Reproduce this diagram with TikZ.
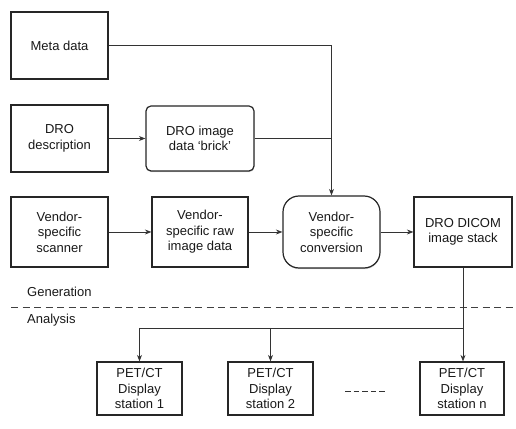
\documentclass[tikz,border=0pt]{standalone}
\usepackage{fontspec}
\setmainfont{Liberation Sans}
\usetikzlibrary{arrows.meta,shadows}
\begin{document}
\begin{tikzpicture}[x=1pt,y=1pt,
  every node/.style={font=\fontsize{13}{15.5}\selectfont, text=black!90},
  box/.style={draw=black!85, line width=1.2pt, fill=white, align=center, inner sep=0pt,
    drop shadow={shadow xshift=0.3pt, shadow yshift=-1.2pt, opacity=0.35}},
  rbox/.style={box, rounded corners=5pt},
  cbox/.style={box, rounded corners=16pt},
  conn/.style={draw=black!80, line width=0.8pt},
  arr/.style={conn, -{Stealth[length=6.5pt,width=5pt]}},
  lbl/.style={anchor=west, inner sep=0pt}
]
\useasboundingbox (0,0) rectangle (516,428);
\node[box, minimum width=97pt, minimum height=67pt] (meta) at (59.5,382.5) {Meta data};
\node[box, minimum width=97pt, minimum height=67pt] (desc) at (59.5,289.5) {DRO\\description};
\node[rbox, minimum width=108pt, minimum height=65pt] (brick) at (200,289.5) {DRO image\\data `brick'};
\node[box, minimum width=97pt, minimum height=70pt] (scan) at (59.5,196) {Vendor-\\specific\\scanner};
\node[box, minimum width=96pt, minimum height=70pt] (raw) at (200,196) {Vendor-\\specific raw\\image data};
\node[cbox, minimum width=97pt, minimum height=72pt] (conv) at (331.5,196) {Vendor-\\specific\\conversion};
\node[box, minimum width=98pt, minimum height=70pt] (dicom) at (463,196) {DRO DICOM\\image stack};
\node[box, minimum width=85pt, minimum height=53pt] (pet1) at (139.5,39.5) {PET/CT\\Display\\station 1};
\node[box, minimum width=85pt, minimum height=53pt] (pet2) at (270.5,39.5) {PET/CT\\Display\\station 2};
\node[box, minimum width=84pt, minimum height=53pt] (petn) at (462,39.5) {PET/CT\\Display\\station n};
\node[lbl] (gen) at (27,136) {Generation};
\node[lbl] (ana) at (27,108) {Analysis};
\coordinate (sep1) at (11,121);
\coordinate (sep2) at (516,121);
\draw[draw=black!75, line width=0.9pt, dash pattern=on 7pt off 4.5pt] (sep1) -- (sep2);
\coordinate (dots1) at (345,37);
\coordinate (dots2) at (385,37);
\draw[draw=black!80, line width=0.9pt, dash pattern=on 5.6pt off 3pt] (dots1) -- (dots2);
% connectors
\coordinate (j1) at (conv.north |- meta.east);
\coordinate (j2) at (conv.north |- brick.east);
\draw[conn] (meta.east) -- (j1) -- (j2);
\draw[conn] (brick.east) -- (j2);
\draw[arr] (j2) -- (conv.north);
\draw[arr] (desc.east) -- (brick.west |- desc.east);
\draw[arr] (scan.east) -- (raw.west);
\draw[arr] (raw.east) -- (conv.west);
\draw[arr] (conv.east) -- (dicom.west);
\coordinate (b0) at (463,100);
\coordinate (b1) at (pet1.north |- b0);
\coordinate (b2) at (pet2.north |- b0);
\draw[conn] (dicom.south) -- (b0);
\draw[conn] (b0) -- (b1);
\draw[arr] (b1) -- (pet1.north);
\draw[arr] (b2) -- (pet2.north);
\draw[arr] (b0) -- (petn.north -| b0);
\end{tikzpicture}
\end{document}
